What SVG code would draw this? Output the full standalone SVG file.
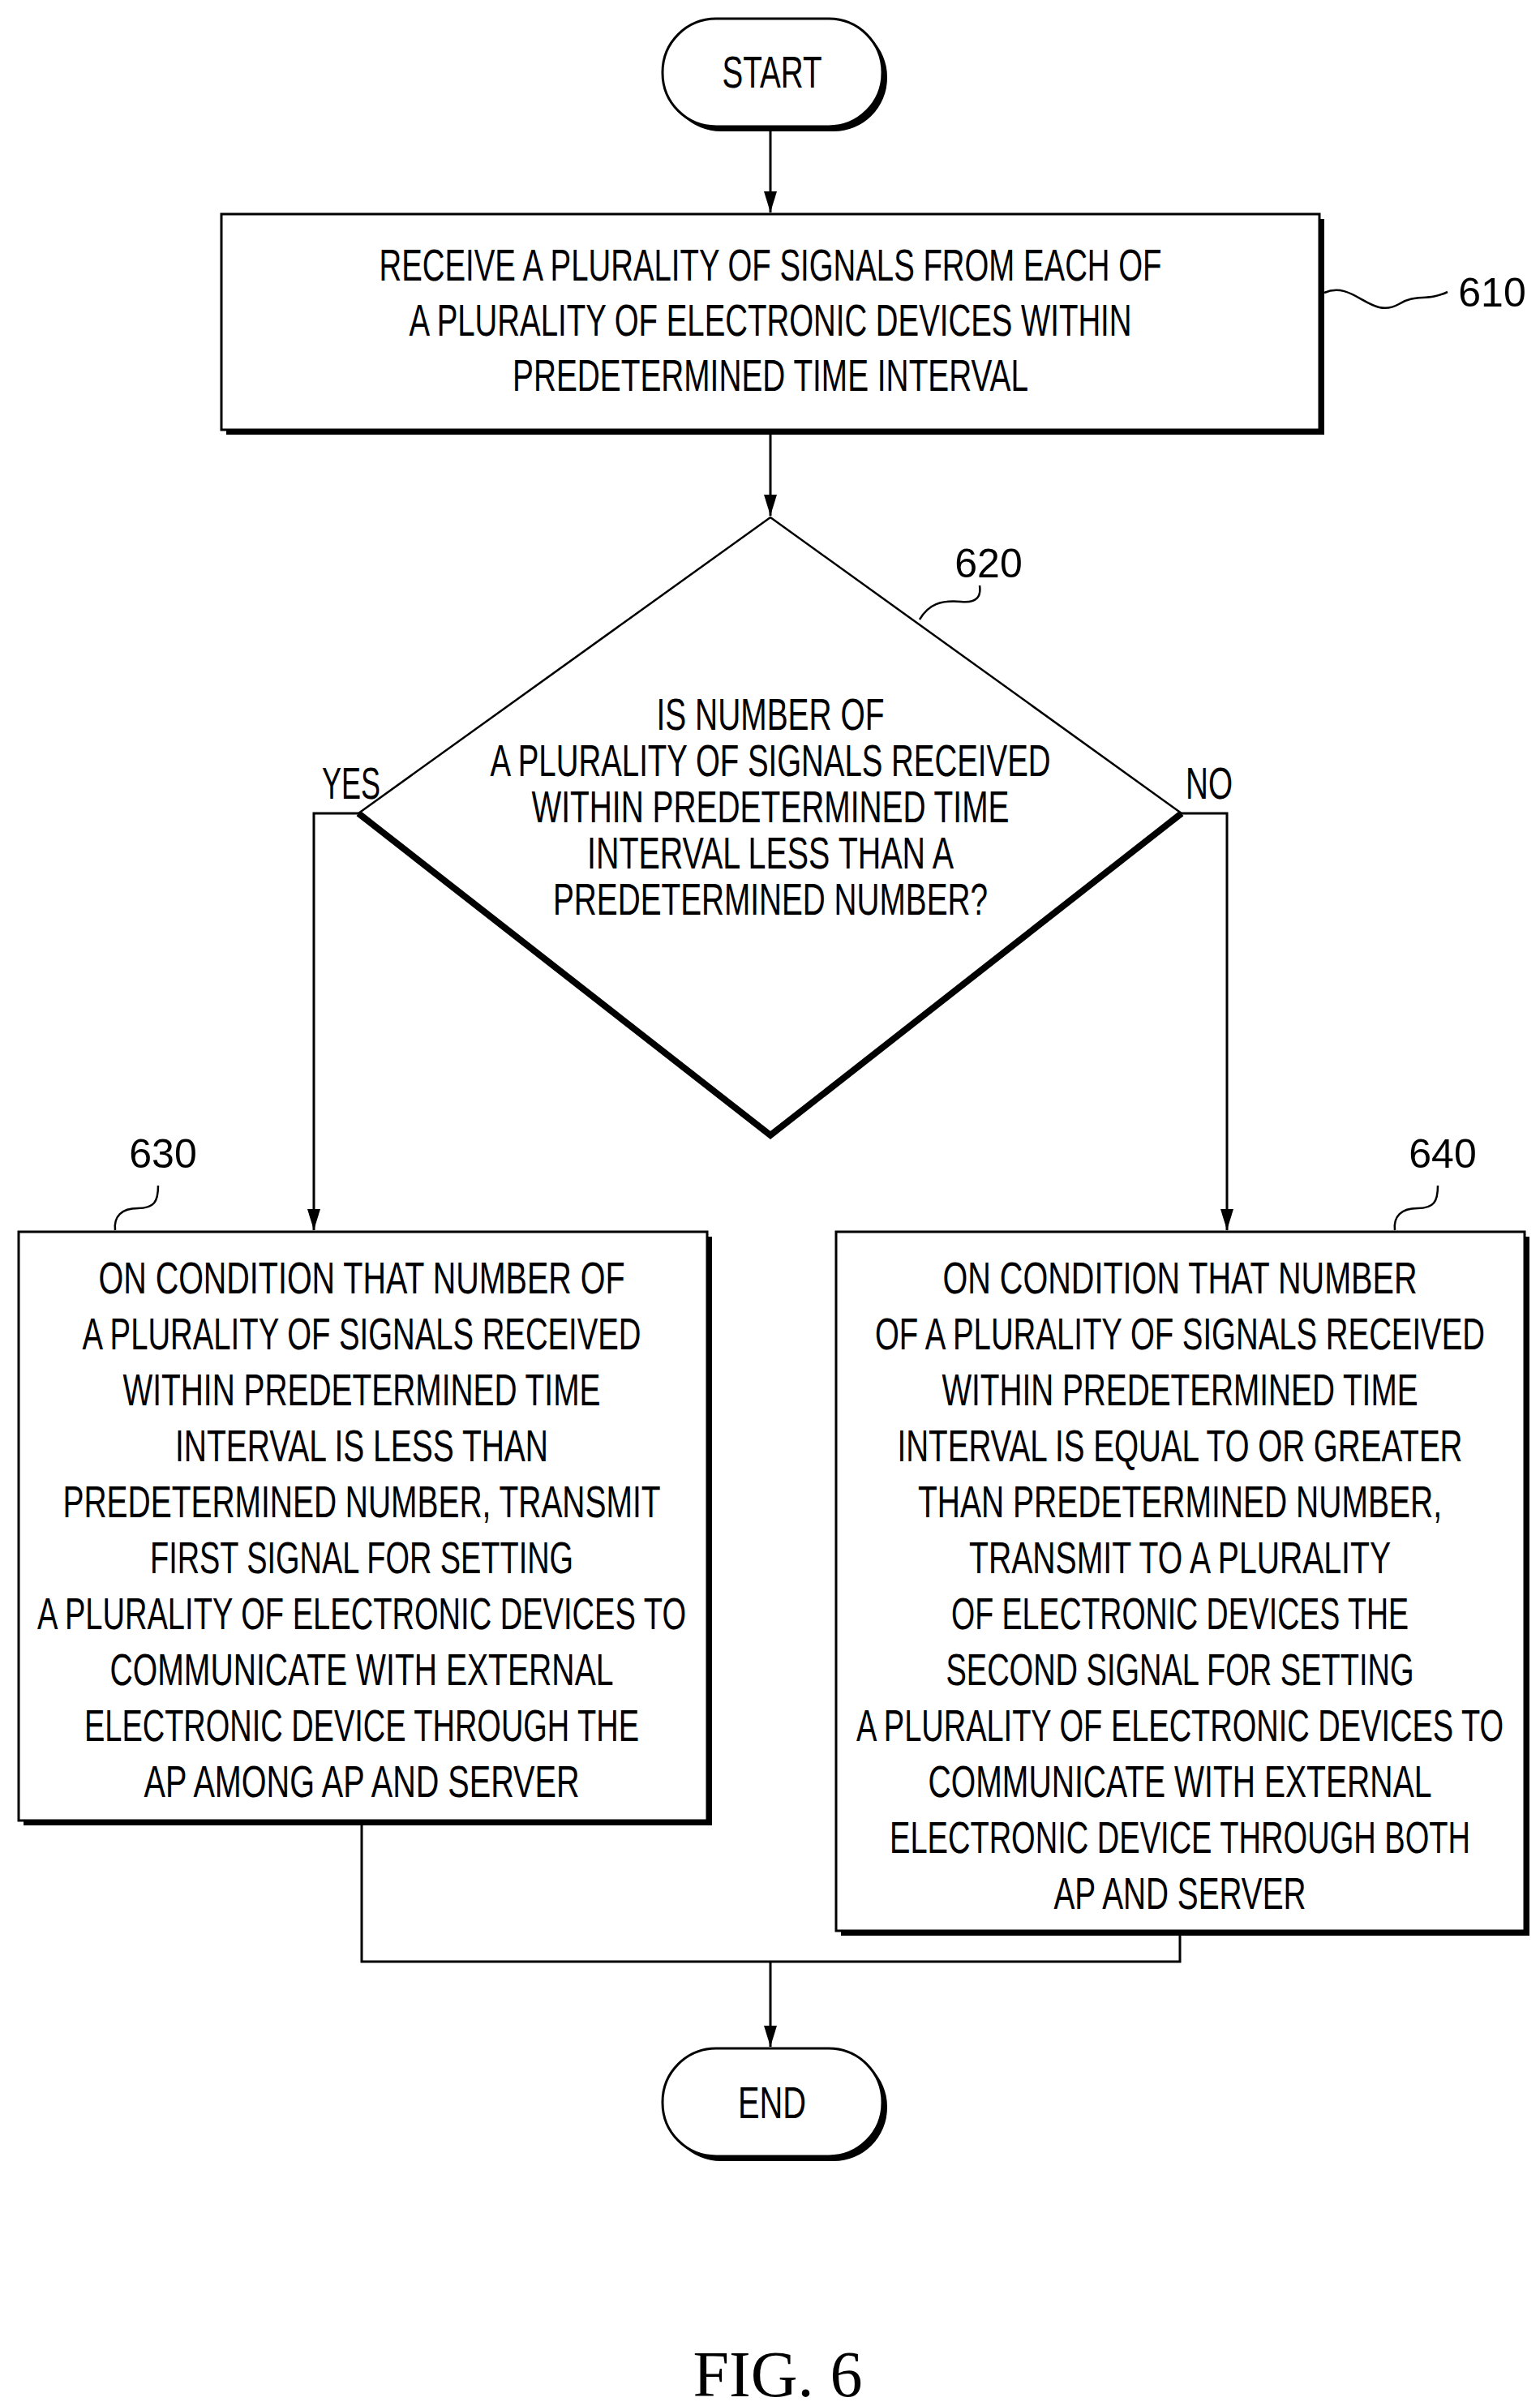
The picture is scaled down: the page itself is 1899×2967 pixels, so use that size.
<svg xmlns="http://www.w3.org/2000/svg" width="1899" height="2967" viewBox="0 0 1899 2967">
<style>
.t{font-family:"Liberation Sans",Arial,sans-serif;font-size:56px;text-anchor:middle;fill:#000}
.n{font-family:"Liberation Sans",Arial,sans-serif;font-size:50px;text-anchor:middle;fill:#000}
.b{fill:#fff;stroke:#000;stroke-width:3}
.s{fill:#000}
.c{fill:none;stroke:#000;stroke-width:3}
.q{fill:none;stroke:#000;stroke-width:2.5}
</style>
<defs>
<marker id="a" viewBox="0 0 10 10" refX="10" refY="5" markerWidth="8" markerHeight="12" markerUnits="userSpaceOnUse" orient="auto"><path d="M0,0L10,5L0,10z" fill="#000"/></marker>
</defs>
<g id="connectors">
<path class="c" d="M950,156V262" marker-end="url(#a)" style="marker-end:none"/>
<path d="M942,236L950,262L958,236z" class="s"/>
<path class="c" d="M950,534V636"/>
<path d="M942,610L950,636L958,610z" class="s"/>
<path class="c" d="M442,1003H387V1517"/>
<path d="M379,1491L387,1517L395,1491z" class="s"/>
<path class="c" d="M1457,1003H1513V1517"/>
<path d="M1505,1491L1513,1517L1521,1491z" class="s"/>
<path class="c" d="M446,2249V2419H1455V2385M950,2419V2524"/>
<path d="M942,2498L950,2524L958,2498z" class="s"/>
</g>
<g id="start">
<rect x="823" y="29" width="271" height="133" rx="66" class="s"/>
<rect x="817" y="23" width="271" height="133" rx="66" class="b"/>
<text class="t" x="952" y="108" textLength="123" lengthAdjust="spacingAndGlyphs">START</text>
</g>
<g id="n610">
<rect x="279" y="270" width="1354" height="266" class="s"/>
<rect x="273" y="264" width="1354" height="266" class="b"/>
<text class="t" x="950" y="346" textLength="965" lengthAdjust="spacingAndGlyphs">RECEIVE A PLURALITY OF SIGNALS FROM EACH OF</text>
<text class="t" x="950" y="414" textLength="891" lengthAdjust="spacingAndGlyphs">A PLURALITY OF ELECTRONIC DEVICES WITHIN</text>
<text class="t" x="950" y="482" textLength="636" lengthAdjust="spacingAndGlyphs">PREDETERMINED TIME INTERVAL</text>
<path class="q" d="M1633,361C1670,345 1690,395 1725,375C1745,362 1760,372 1785,360"/>
<text class="n" x="1840" y="378">610</text>
</g>
<g id="n620">
<path d="M442,1003L950,638L1457,1003L950,1400z" fill="#fff" stroke="#000" stroke-width="2.5"/>
<path d="M442,1003L950,1400L1457,1003" fill="none" stroke="#000" stroke-width="8"/>
<text class="t" x="950" y="900" textLength="281" lengthAdjust="spacingAndGlyphs">IS NUMBER OF</text>
<text class="t" x="950" y="957" textLength="691" lengthAdjust="spacingAndGlyphs">A PLURALITY OF SIGNALS RECEIVED</text>
<text class="t" x="950" y="1014" textLength="589" lengthAdjust="spacingAndGlyphs">WITHIN PREDETERMINED TIME</text>
<text class="t" x="950" y="1071" textLength="452" lengthAdjust="spacingAndGlyphs">INTERVAL LESS THAN A</text>
<text class="t" x="950" y="1128" textLength="536" lengthAdjust="spacingAndGlyphs">PREDETERMINED NUMBER?</text>
<path class="q" d="M1134,764C1145,745 1160,740 1185,742C1205,744 1210,735 1208,722"/>
<text class="n" x="1219" y="712">620</text>
<text class="t" x="433" y="985" textLength="72" lengthAdjust="spacingAndGlyphs">YES</text>
<text class="t" x="1491" y="985" textLength="58" lengthAdjust="spacingAndGlyphs">NO</text>
</g>
<g id="n630">
<rect x="29" y="1525" width="849" height="726" class="s"/>
<rect x="23" y="1519" width="849" height="726" class="b"/>
<text class="t" x="446" y="1595" textLength="649" lengthAdjust="spacingAndGlyphs">ON CONDITION THAT NUMBER OF</text>
<text class="t" x="446" y="1664" textLength="689" lengthAdjust="spacingAndGlyphs">A PLURALITY OF SIGNALS RECEIVED</text>
<text class="t" x="446" y="1733" textLength="589" lengthAdjust="spacingAndGlyphs">WITHIN PREDETERMINED TIME</text>
<text class="t" x="446" y="1802" textLength="460" lengthAdjust="spacingAndGlyphs">INTERVAL IS LESS THAN</text>
<text class="t" x="446" y="1871" textLength="737" lengthAdjust="spacingAndGlyphs">PREDETERMINED NUMBER, TRANSMIT</text>
<text class="t" x="446" y="1940" textLength="522" lengthAdjust="spacingAndGlyphs">FIRST SIGNAL FOR SETTING</text>
<text class="t" x="446" y="2009" textLength="800" lengthAdjust="spacingAndGlyphs">A PLURALITY OF ELECTRONIC DEVICES TO</text>
<text class="t" x="446" y="2078" textLength="621" lengthAdjust="spacingAndGlyphs">COMMUNICATE WITH EXTERNAL</text>
<text class="t" x="446" y="2147" textLength="684" lengthAdjust="spacingAndGlyphs">ELECTRONIC DEVICE THROUGH THE</text>
<text class="t" x="446" y="2216" textLength="537" lengthAdjust="spacingAndGlyphs">AP AMONG AP AND SERVER</text>
<path class="q" d="M142,1517C140,1500 150,1490 170,1490C190,1490 195,1482 195,1462"/>
<text class="n" x="201" y="1440">630</text>
</g>
<g id="n640">
<rect x="1037" y="1525" width="849" height="862" class="s"/>
<rect x="1031" y="1519" width="849" height="862" class="b"/>
<text class="t" x="1455" y="1595" textLength="585" lengthAdjust="spacingAndGlyphs">ON CONDITION THAT NUMBER</text>
<text class="t" x="1455" y="1664" textLength="752" lengthAdjust="spacingAndGlyphs">OF A PLURALITY OF SIGNALS RECEIVED</text>
<text class="t" x="1455" y="1733" textLength="587" lengthAdjust="spacingAndGlyphs">WITHIN PREDETERMINED TIME</text>
<text class="t" x="1455" y="1802" textLength="697" lengthAdjust="spacingAndGlyphs">INTERVAL IS EQUAL TO OR GREATER</text>
<text class="t" x="1455" y="1871" textLength="646" lengthAdjust="spacingAndGlyphs">THAN PREDETERMINED NUMBER,</text>
<text class="t" x="1455" y="1940" textLength="520" lengthAdjust="spacingAndGlyphs">TRANSMIT TO A PLURALITY</text>
<text class="t" x="1455" y="2009" textLength="564" lengthAdjust="spacingAndGlyphs">OF ELECTRONIC DEVICES THE</text>
<text class="t" x="1455" y="2078" textLength="577" lengthAdjust="spacingAndGlyphs">SECOND SIGNAL FOR SETTING</text>
<text class="t" x="1455" y="2147" textLength="798" lengthAdjust="spacingAndGlyphs">A PLURALITY OF ELECTRONIC DEVICES TO</text>
<text class="t" x="1455" y="2216" textLength="621" lengthAdjust="spacingAndGlyphs">COMMUNICATE WITH EXTERNAL</text>
<text class="t" x="1455" y="2285" textLength="716" lengthAdjust="spacingAndGlyphs">ELECTRONIC DEVICE THROUGH BOTH</text>
<text class="t" x="1455" y="2354" textLength="311" lengthAdjust="spacingAndGlyphs">AP AND SERVER</text>
<path class="q" d="M1720,1517C1718,1500 1728,1490 1748,1490C1768,1490 1773,1482 1773,1462"/>
<text class="n" x="1779" y="1440">640</text>
</g>
<g id="end">
<rect x="823" y="2532" width="271" height="133" rx="66" class="s"/>
<rect x="817" y="2526" width="271" height="133" rx="66" class="b"/>
<text class="t" x="952" y="2612" textLength="84" lengthAdjust="spacingAndGlyphs">END</text>
</g>
<text x="959" y="2955" font-family="Liberation Serif,serif" font-size="80" text-anchor="middle">FIG. 6</text>
</svg>
